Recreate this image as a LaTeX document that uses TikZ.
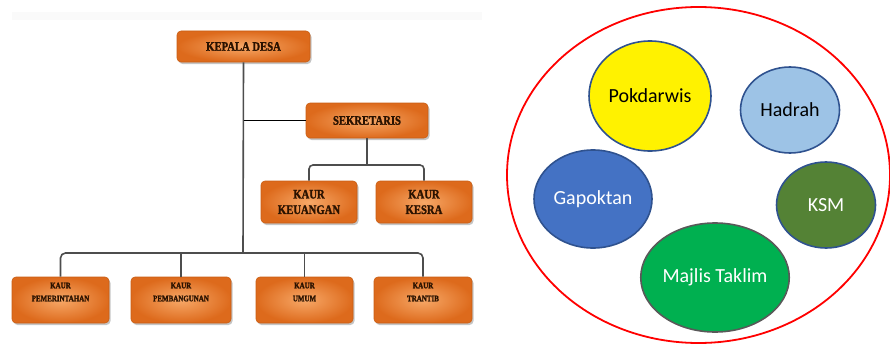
\documentclass[tikz,border=0pt]{standalone}
\usepackage{fontspec}
\setmainfont{Carlito}
\newfontfamily\kotakfont[FakeStretch=0.82, BoldFeatures={FakeBold=1.6}]{Liberation Serif}
\usetikzlibrary{shapes.geometric,shadows}
\definecolor{OrgGelap}{HTML}{DD6A1C}
\definecolor{OrgTerang}{HTML}{F7A867}
\definecolor{OrgTepi}{HTML}{C95E14}
\definecolor{TeksCoklat}{HTML}{2A1200}
\definecolor{GarisAbu}{HTML}{4D4D4D}
\definecolor{TepiBiru}{HTML}{2F528F}
\definecolor{BiruMuda}{HTML}{9DC3E6}
\definecolor{BiruTua}{HTML}{4472C4}
\definecolor{HijauTua}{HTML}{548235}
\definecolor{HijauCerah}{HTML}{00B050}
\definecolor{TepiAbu}{HTML}{595959}

\begin{document}
\begin{tikzpicture}[x=1pt, y=-1pt,
    kotak/.style={rounded corners=4pt, draw=OrgTepi, line width=0.6pt,
        shade, inner color=OrgTerang, outer color=OrgGelap,
        drop shadow={shadow xshift=1.5pt, shadow yshift=-2pt, fill=black!45, opacity=.5},
        text=TeksCoklat, align=center, inner sep=0pt,
        font=\kotakfont\bfseries\fontsize{13}{15.5}\selectfont},
    kotakkecil/.style={kotak, font=\kotakfont\bfseries\fontsize{8.5}{13}\selectfont},
    garis/.style={GarisAbu, line width=1.6pt},
    kelompok/.style={ellipse, draw=TepiBiru, line width=1.6pt, inner sep=0pt,
        font=\fontsize{20}{22}\selectfont}]
    \useasboundingbox (0,0) rectangle (890,345);
    \fill[black!2] (12,12) rectangle (482,20);

    \node[kotak, minimum width=133, minimum height=31] (kepala) at (243.5,46.5) {KEPALA DESA};
    \node[kotak, minimum width=122, minimum height=35] (sekretaris) at (367,120.5) {SEKRETARIS};
    \node[kotak, minimum width=96, minimum height=42] (keuangan) at (309,202) {KAUR\\KEUANGAN};
    \node[kotak, minimum width=96, minimum height=42] (kesra) at (424,202) {KAUR\\KESRA};
    \node[kotakkecil, minimum width=97, minimum height=46] (pemerintahan) at (60.5,300) {KAUR\\PEMERINTAHAN\\[3pt]};
    \node[kotakkecil, minimum width=100, minimum height=46] (pembangunan) at (181,300) {KAUR\\PEMBANGUNAN\\[3pt]};
    \node[kotakkecil, minimum width=97, minimum height=46] (umum) at (304.5,300) {KAUR\\UMUM\\[3pt]};
    \node[kotakkecil, minimum width=98, minimum height=46] (trantib) at (423,300) {KAUR\\TRANTIB\\[3pt]};

    \coordinate (bus) at (243,253);
    \coordinate (bussek) at (365,165);
    \draw[garis] (kepala.south) -- (bus);
    \draw[garis, black] (kepala.south |- sekretaris.west) -- (sekretaris.west);
    \draw[garis] (sekretaris.south) -- (sekretaris.south |- bussek);
    \draw[garis, rounded corners=4pt] (keuangan.north) |- (bussek) -| (kesra.north);
    \draw[garis, rounded corners=5pt] (pemerintahan.north) |- (bus) -| (trantib.north);
    \draw[garis] (pembangunan.north) -- (pembangunan.north |- bus);
    \draw[garis] (umum.north) -- (umum.north |- bus);

    \node[ellipse, draw=red, line width=1.8pt, minimum width=383, minimum height=336] (wadah) at (698.5,175) {};
    \node[kelompok, fill=yellow, minimum width=122, minimum height=110] (pokdarwis) at (650,96) {Pokdarwis};
    \node[kelompok, fill=BiruMuda, minimum width=99, minimum height=86] (hadrah) at (790,110) {Hadrah};
    \node[kelompok, fill=BiruTua, text=white, minimum width=118, minimum height=98] (gapoktan) at (593,199) {Gapoktan};
    \node[kelompok, fill=HijauTua, text=white, minimum width=99, minimum height=86] (ksm) at (826,205) {KSM};
    \node[kelompok, draw=TepiAbu, fill=HijauCerah, text=white, minimum width=128, minimum height=109] (majlis) at (715,277.5) {Majlis Taklim};
\end{tikzpicture}
\end{document}
